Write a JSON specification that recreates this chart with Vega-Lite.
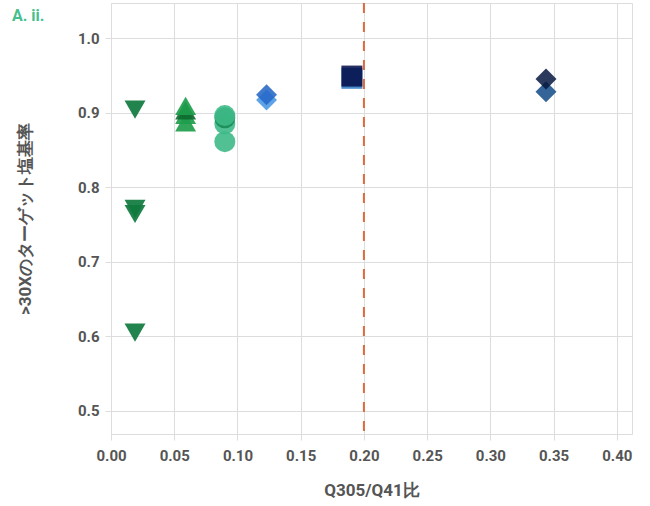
{
  "$schema": "https://vega.github.io/schema/vega-lite/v6.json",
  "autosize": {"type": "none"},
  "padding": {"left": 111, "top": 3, "right": 18, "bottom": 72},
  "width": 521,
  "height": 431,
  "background": "white",
  "title": {"text": "A. ii.", "anchor": "start", "frame": "group", "dx": -99, "dy": 26, "fontSize": 16, "font": "Roboto", "fontWeight": "bold", "color": "#45bf8c"},
  "config": {
    "view": {"stroke": "#dddddd"},
    "axis": {"gridColor": "#dddddd", "tickColor": "#dddddd", "domainColor": "#dddddd", "labelFont": "Roboto", "labelFontWeight": "bold", "labelFontSize": 15, "labelColor": "#555555", "titleFont": "Roboto", "titleFontWeight": "bold", "titleFontSize": 17, "titleColor": "#555555", "tickSize": 6, "labelFlush": false}
  },
  "datasets": {
    "pts": [
      {"ratio": 0.019, "rate": 0.904, "series": "tdown", "shape": "down"},
      {"ratio": 0.019, "rate": 0.771, "series": "tdown", "shape": "down"},
      {"ratio": 0.019, "rate": 0.764, "series": "tdown", "shape": "down"},
      {"ratio": 0.019, "rate": 0.605, "series": "tdown", "shape": "down"},
      {"ratio": 0.059, "rate": 0.887, "series": "tup", "shape": "up"},
      {"ratio": 0.059, "rate": 0.897, "series": "tup", "shape": "up"},
      {"ratio": 0.059, "rate": 0.903, "series": "tupdark", "shape": "up"},
      {"ratio": 0.059, "rate": 0.909, "series": "tup", "shape": "up"},
      {"ratio": 0.090, "rate": 0.861, "series": "circ", "shape": "circle"},
      {"ratio": 0.090, "rate": 0.885, "series": "circ", "shape": "circle"},
      {"ratio": 0.090, "rate": 0.893, "series": "circdark", "shape": "circle"},
      {"ratio": 0.090, "rate": 0.896, "series": "circ", "shape": "circle"},
      {"ratio": 0.123, "rate": 0.917, "series": "dlight", "shape": "diamond"},
      {"ratio": 0.123, "rate": 0.924, "series": "dmid", "shape": "diamond"},
      {"ratio": 0.1905, "rate": 0.946, "series": "sqlight", "shape": "square"},
      {"ratio": 0.1905, "rate": 0.949, "series": "sqnavy", "shape": "square"},
      {"ratio": 0.344, "rate": 0.928, "series": "dblue", "shape": "diamond"},
      {"ratio": 0.344, "rate": 0.945, "series": "dnavy", "shape": "diamond"}
    ],
    "ref": [{"ratio": 0.2}]
  },
  "layer": [
    {
      "data": {"name": "pts"},
      "mark": {"type": "point", "filled": true, "size": 440},
      "encoding": {
        "x": {"field": "ratio", "type": "quantitative", "scale": {"domain": [0, 0.412], "nice": false, "zero": false}, "axis": {"values": [0, 0.05, 0.1, 0.15, 0.2, 0.25, 0.3, 0.35, 0.4], "format": ".2f", "title": "Q305/Q41比", "labelPadding": 8, "titlePadding": 19}},
        "y": {"field": "rate", "type": "quantitative", "scale": {"domain": [0.469, 1.047], "nice": false, "zero": false}, "axis": {"values": [0.5, 0.6, 0.7, 0.8, 0.9, 1.0], "format": ".1f", "title": ">30Xのターゲット塩基率", "labelPadding": 6, "titlePadding": 43}},
        "shape": {"field": "shape", "type": "nominal", "scale": {"domain": ["down", "up", "circle", "diamond", "square"], "range": ["triangle-down", "triangle-up", "circle", "diamond", "square"]}, "legend": null},
        "color": {"field": "series", "type": "nominal", "scale": {"domain": ["tdown", "tup", "tupdark", "circ", "circdark", "dlight", "dmid", "sqlight", "sqnavy", "dblue", "dnavy"], "range": ["#0f7a3e", "#1e9e4c", "#0d6a2e", "#3dba88", "#168a55", "#4b97e4", "#2668c8", "#2e7bc4", "#030e48", "#134a87", "#051640"]}, "legend": null},
        "opacity": {"field": "series", "type": "nominal", "scale": {"domain": ["tdown", "tup", "tupdark", "circ", "circdark", "dlight", "dmid", "sqlight", "sqnavy", "dblue", "dnavy"], "range": [0.92, 0.85, 0.85, 0.9, 0.85, 0.85, 0.9, 1, 1, 0.95, 1]}, "legend": null},
        "size": {"field": "shape", "type": "nominal", "scale": {"domain": ["down", "up", "circle", "diamond", "square"], "range": [440, 440, 230, 380, 155]}, "legend": null},
        "order": {"field": "rate", "type": "quantitative"}
      }
    },
    {
      "data": {"name": "ref"},
      "mark": {"type": "rule", "color": "#de6a3e", "strokeWidth": 2, "strokeDash": [10, 9]},
      "encoding": {"x": {"field": "ratio", "type": "quantitative"}}
    }
  ]
}
